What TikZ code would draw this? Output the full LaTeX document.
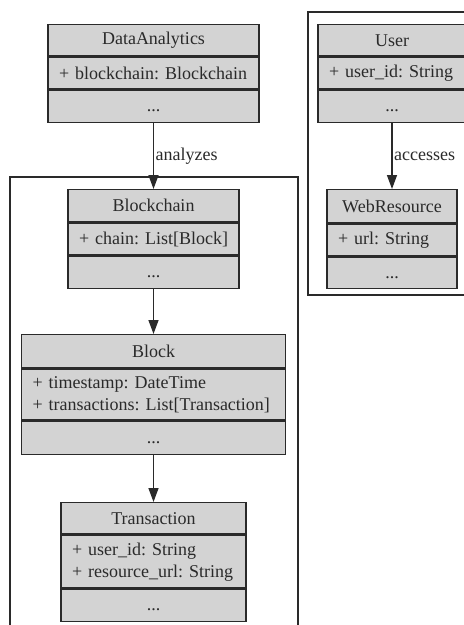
\documentclass[tikz,border=0pt]{standalone}
\usepackage{fontspec}
\setmainfont{Liberation Serif}
\usetikzlibrary{arrows.meta}
\definecolor{ink}{HTML}{2A2A2A}
\definecolor{boxfill}{HTML}{D3D3D3}
\newcommand{\attrline}[1]{\mbox{#1}}
\tikzset{
  row/.style 2 args={draw=ink, fill=boxfill, line width=1.1pt, inner sep=0pt,
    minimum width=#1*0.75pt, minimum height=#2*0.75pt, anchor=north, text=ink},
  attrrow/.style 2 args={row={#1}{#2}, align=left, text width=#1*0.75pt-16.5pt,
    inner xsep=8.25pt},
  oprow/.style 2 args={row={#1}{#2}, text height=7.5pt, text depth=0pt},
  cluster/.style={draw=ink, line width=0.8pt},
  link/.style={draw=ink, line width=1.1pt, -{Triangle[length=10.5pt,width=7.5pt]}},
  linklabel/.style={anchor=west, inner sep=1pt, text=ink},
}
\begin{document}
\frenchspacing
\begin{tikzpicture}[x=0.75pt, y=-0.75pt, font=\fontsize{13.5}{16.5}\selectfont]
\useasboundingbox (0,0) rectangle (464,625);

% package outlines
\draw[cluster] (10,177) rectangle (298,645);
\draw[cluster] (308,12) rectangle (490,295);

% DataAnalytics
\node[row={211}{31}] (DataAnalytics) at (153.5,24) {DataAnalytics};
\node[attrrow={211}{32}] (DataAnalytics-a) at (DataAnalytics.south) {\attrline{+ blockchain: Blockchain}};
\node[oprow={211}{32}] (DataAnalytics-m) at (DataAnalytics-a.south) {...};

% Blockchain
\node[row={171}{32}] (Blockchain) at (153.5,189) {Blockchain};
\node[attrrow={171}{32}] (Blockchain-a) at (Blockchain.south) {\attrline{+ chain: List[Block]}};
\node[oprow={171}{32}] (Blockchain-m) at (Blockchain-a.south) {...};

% Block
\node[row={264}{33}] (Block) at (153.5,334) {Block};
\node[attrrow={264}{51}] (Block-a) at (Block.south) {\attrline{+ timestamp: DateTime}\\\attrline{+ transactions: List[Transaction]}};
\node[oprow={264}{33}] (Block-m) at (Block-a.south) {...};

% Transaction
\node[row={185}{31}] (Transaction) at (153.5,502) {Transaction};
\node[attrrow={185}{53}] (Transaction-a) at (Transaction.south) {\attrline{+ user\_id: String}\\\attrline{+ resource\_url: String}};
\node[oprow={185}{32}] (Transaction-m) at (Transaction-a.south) {...};

% User
\node[row={148}{31}] (User) at (392,24) {User};
\node[attrrow={148}{32}] (User-a) at (User.south) {\attrline{+ user\_id: String}};
\node[oprow={148}{32}] (User-m) at (User-a.south) {...};

% WebResource
\node[row={130}{33}] (WebResource) at (392,189) {WebResource};
\node[attrrow={130}{32}] (WebResource-a) at (WebResource.south) {\attrline{+ url: String}};
\node[oprow={130}{31}] (WebResource-m) at (WebResource-a.south) {...};

% associations
\draw[link] (DataAnalytics-m.south) -- node[linklabel] {analyzes} (Blockchain.north);
\draw[link] (Blockchain-m.south) -- (Block.north);
\draw[link] (Block-m.south) -- (Transaction.north);
\draw[link] (User-m.south) -- node[linklabel] {accesses} (WebResource.north);
\end{tikzpicture}
\end{document}
